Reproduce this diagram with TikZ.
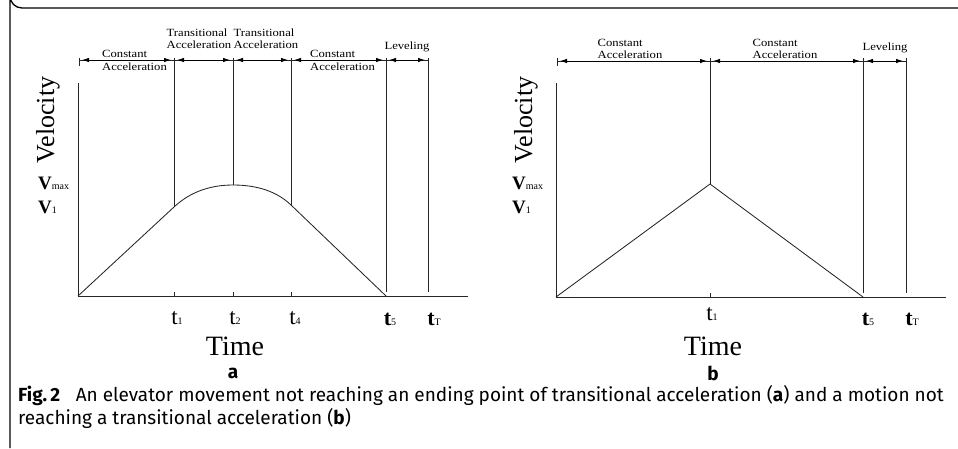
\documentclass[tikz,border=0pt]{standalone}
\usepackage{fontspec}
\setmainfont{Liberation Serif}
\newfontfamily\dimfont[FakeStretch=1.15]{Liberation Serif}
\newfontfamily\capfont{Fira Sans}
\usetikzlibrary{arrows.meta}
\begin{document}
\begin{tikzpicture}[x=1pt,y=-1pt,
  ax/.style={draw=black!85, line width=0.85pt},
  dim/.style={draw=black!85, line width=0.75pt},
  dimarr/.style={draw=black, line width=0.8pt, {Latex[length=7pt,width=4.5pt]}-{Latex[length=7pt,width=4.5pt]}, shorten <=3pt, shorten >=3pt},
  small/.style={font=\dimfont\fontsize{11}{12}\selectfont, inner sep=0pt, align=left},
  vel/.style={font=\fontsize{26}{26}\selectfont, rotate=90, inner sep=0pt},
  timel/.style={font=\fontsize{28}{28}\selectfont, inner sep=0pt},
  panel/.style={font=\capfont\bfseries\fontsize{19}{19}\selectfont, inner sep=0pt},
  tlab/.style={inner sep=0pt, anchor=base},
  vlab/.style={inner sep=0pt, anchor=base west},
  captext/.style={font=\capfont\fontsize{19}{22}\selectfont, inner sep=0pt, anchor=base west}
]
\useasboundingbox (0,0) rectangle (958,448);
% frame
\draw[line width=1.3pt] (958,8) -- (22,8) arc[start angle=90,end angle=180,radius=12] -- (10,448);

% ================= panel a =================
\coordinate (aO) at (78,296);
\coordinate (aX) at (468,296);
\coordinate (aY) at (78,83);
\draw[ax] (aX) -- (aO) -- (aY);
\foreach \x in {174,233,291} \draw[ax] (\x,296) -- (\x,292);
\coordinate (aP1) at (174,207);
\coordinate (aPk) at (233,185);
\coordinate (aP4) at (291,205);
\coordinate (aP5) at (386,296);
\draw[ax] (aO) -- (aP1) .. controls (189.8,192.3) and (209.5,185) .. (aPk)
  .. controls (257.7,185) and (277.1,191.7) .. (aP4) -- (aP5);
\draw[ax] (79,58) -- (79,66);
\draw[ax] (174,58) -- (aP1);
\draw[ax] (233,58) -- (aPk);
\draw[ax] (291,58) -- (aP4);
\draw[ax] (386,58) -- (386,292);
\draw[ax] (428,58) -- (428,292);
\draw[dim] (79,60) -- (428,60);
\foreach \a/\b in {79/174,174/233,233/291,291/386,386/428}
  \draw[dimarr] (\a,60) -- (\b,60);
\node[small, anchor=west] (a1) at (102,60.5) {Constant\\[0.5pt]Acceleration};
\node[small, anchor=center] (a2) at (199,38.5) {Transitional\\Acceleration};
\node[small, anchor=center] (a3) at (266,38.5) {Transitional\\Acceleration};
\node[small, anchor=west] (a4) at (310,60.5) {Constant\\[0.5pt]Acceleration};
\node[small, anchor=center] (a5) at (407,47) {Leveling};
\node[vel] (avel) at (48,120) {Velocity};
\node[vlab] (avmax) at (38,189) {\fontsize{19}{19}\selectfont\bfseries V\fontsize{10}{10}\selectfont\mdseries max};
\node[vlab] (av1) at (38,213) {\fontsize{19}{19}\selectfont\bfseries V\fontsize{10}{10}\selectfont\mdseries 1};
\node[tlab] (at1) at (177,324) {\fontsize{23}{23}\selectfont t\fontsize{10}{10}\selectfont 1};
\node[tlab] (at2) at (235,324) {\fontsize{23}{23}\selectfont t\fontsize{10}{10}\selectfont 2};
\node[tlab] (at4) at (295,324) {\fontsize{23}{23}\selectfont t\fontsize{10}{10}\selectfont 4};
\node[tlab] (at5) at (390,325) {\fontsize{22}{22}\selectfont\bfseries t\fontsize{10}{10}\selectfont\mdseries 5};
\node[tlab] (atT) at (434,325) {\fontsize{22}{22}\selectfont\bfseries t\fontsize{10}{10}\selectfont\mdseries T};
\node[timel] (atime) at (235,346) {Time};
\node[panel] (pa) at (233,373) {a};

% ================= panel b =================
\coordinate (bO) at (556,297);
\coordinate (bX) at (946,297);
\coordinate (bY) at (556,83);
\draw[ax] (bX) -- (bO) -- (bY);
\draw[ax] (710,297) -- (710,293);
\coordinate (bPk) at (710,184);
\coordinate (bP5) at (863,297);
\draw[ax] (bO) -- (bPk) -- (bP5);
\draw[ax] (557,58) -- (557,66);
\draw[ax] (710,58) -- (bPk);
\draw[ax] (863,58) -- (863,293);
\draw[ax] (906,58) -- (906,293);
\draw[dim] (557,61) -- (906,61);
\foreach \a/\b in {557/710,710/863,863/906}
  \draw[dimarr] (\a,61) -- (\b,61);
\node[small, anchor=center] (b1) at (630,48.5) {Constant\\Acceleration};
\node[small, anchor=center] (b2) at (785,48.5) {Constant\\Acceleration};
\node[small, anchor=center] (b3) at (885,48) {Leveling};
\node[vel] (bvel) at (526,120) {Velocity};
\node[vlab] (bvmax) at (512,189) {\fontsize{19}{19}\selectfont\bfseries V\fontsize{10}{10}\selectfont\mdseries max};
\node[vlab] (bv1) at (512,213) {\fontsize{19}{19}\selectfont\bfseries V\fontsize{10}{10}\selectfont\mdseries 1};
\node[tlab] (bt1) at (712,320) {\fontsize{23}{23}\selectfont t\fontsize{10}{10}\selectfont 1};
\node[tlab] (bt5) at (868,325) {\fontsize{22}{22}\selectfont\bfseries t\fontsize{10}{10}\selectfont\mdseries 5};
\node[tlab] (btT) at (912,325) {\fontsize{22}{22}\selectfont\bfseries t\fontsize{10}{10}\selectfont\mdseries T};
\node[timel] (btime) at (713,346) {Time};
\node[panel] (pb) at (713,373) {b};

% ================= caption =================
\node[captext] (cap1) at (18,401) {\textbf{Fig.\,2}\hspace{0.55em} An elevator movement not reaching an ending point of transitional acceleration (\textbf{a}) and a motion not};
\node[captext] (cap2) at (18,424) {reaching a transitional acceleration (\textbf{b})};
\end{tikzpicture}
\end{document}
